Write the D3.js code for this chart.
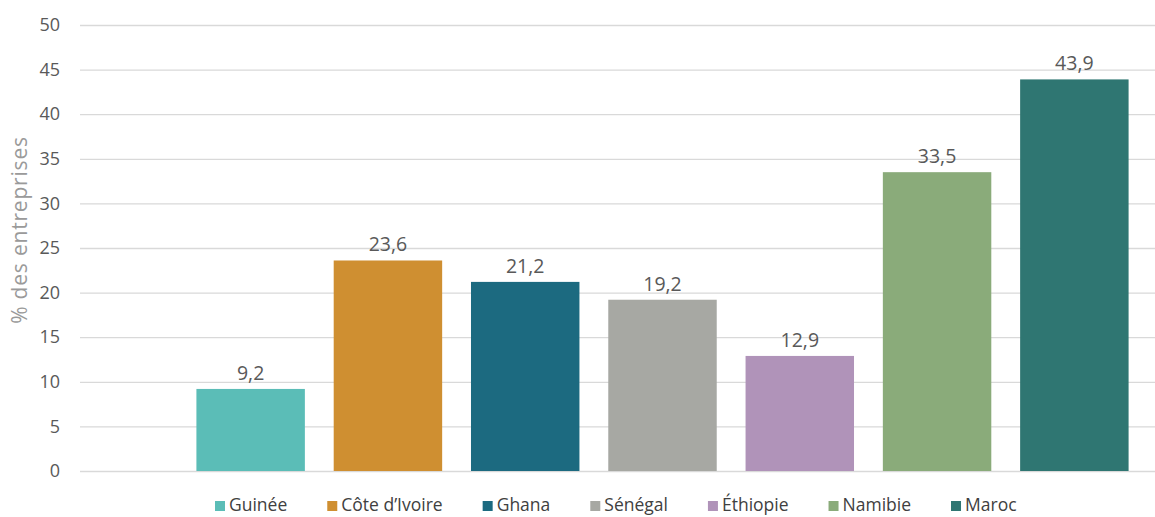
<!DOCTYPE html>
<html>
<head>
<meta charset="utf-8">
<script src="https://cdn.jsdelivr.net/npm/d3@7"></script>
<style>
  html, body { margin: 0; padding: 0; background: #fff; }
  svg { display: block; }
</style>
</head>
<body>
<svg id="chart" width="1155" height="517"></svg>
<script>
// Share of firms by country (%)
const countries = ["Guinée", "Côte d’Ivoire", "Ghana", "Sénégal", "Éthiopie", "Namibie", "Maroc"];
const values = [9.2, 23.6, 21.2, 19.2, 12.9, 33.5, 43.9];
const colors = ["#5bbdb7", "#cf8f31", "#1c6a80", "#a7a8a3", "#b093b9", "#8aab7a", "#2f7672"];
const yTicks = [0, 5, 10, 15, 20, 25, 30, 35, 40, 45, 50];
const yTitle = "% des entreprises";

const svg = d3.select("#chart");
const W = 1155;

const y = d3.scaleLinear().domain([0, 50]).range([471, 25]);
const x = d3.scaleBand().domain(countries).range([182, 1143])
  .paddingInner(0.21).paddingOuter(0.105);

const fmt = v => d3.format(".1f")(v).replace(".", ",");

// gridlines and tick labels
const yAxis = d3.axisLeft(y).tickValues(yTicks).tickSize(-(W - 80)).tickPadding(20);
const gAxis = svg.append("g").attr("transform", "translate(80,0)").call(yAxis);
gAxis.select(".domain").remove();
gAxis.selectAll(".tick line").attr("stroke", "#d9d9d9").attr("stroke-width", 1.3);
gAxis.selectAll(".tick text")
  .attr("fill", "#595959")
  .style("font-family", "'Open Sans', sans-serif")
  .style("font-size", "18px");

// axis title
svg.append("text")
  .attr("transform", "translate(27,230) rotate(-90)")
  .attr("text-anchor", "middle")
  .attr("fill", "#9a9a9a")
  .style("font-family", "'Open Sans', sans-serif")
  .style("font-size", "21px")
  .style("letter-spacing", "0.8px")
  .text(yTitle);

// bars
svg.append("g").selectAll("rect")
  .data(countries)
  .join("rect")
  .attr("x", d => x(d))
  .attr("y", (d, i) => y(values[i]))
  .attr("width", x.bandwidth())
  .attr("height", (d, i) => y(0) - y(values[i]))
  .attr("fill", (d, i) => colors[i]);

// value labels
svg.append("g").selectAll("text")
  .data(countries)
  .join("text")
  .attr("x", d => x(d) + x.bandwidth() / 2)
  .attr("y", (d, i) => y(values[i]) - 9)
  .attr("text-anchor", "middle")
  .attr("fill", "#595959")
  .style("font-family", "'Open Sans', sans-serif")
  .style("font-size", "19.5px")
  .text((d, i) => fmt(values[i]));

// legend
const legend = svg.append("g");
let lx = 215;
countries.forEach((c, i) => {
  legend.append("rect")
    .attr("x", lx).attr("y", 501)
    .attr("width", 10).attr("height", 10)
    .attr("fill", colors[i]);
  const t = legend.append("text")
    .attr("x", lx + 14).attr("y", 511)
    .attr("fill", "#404040")
    .style("font-family", "'Open Sans', sans-serif")
    .style("font-size", "17.5px")
    .text(c);
  lx += 14 + t.node().getComputedTextLength() + 40;
});
</script>
</body>
</html>
